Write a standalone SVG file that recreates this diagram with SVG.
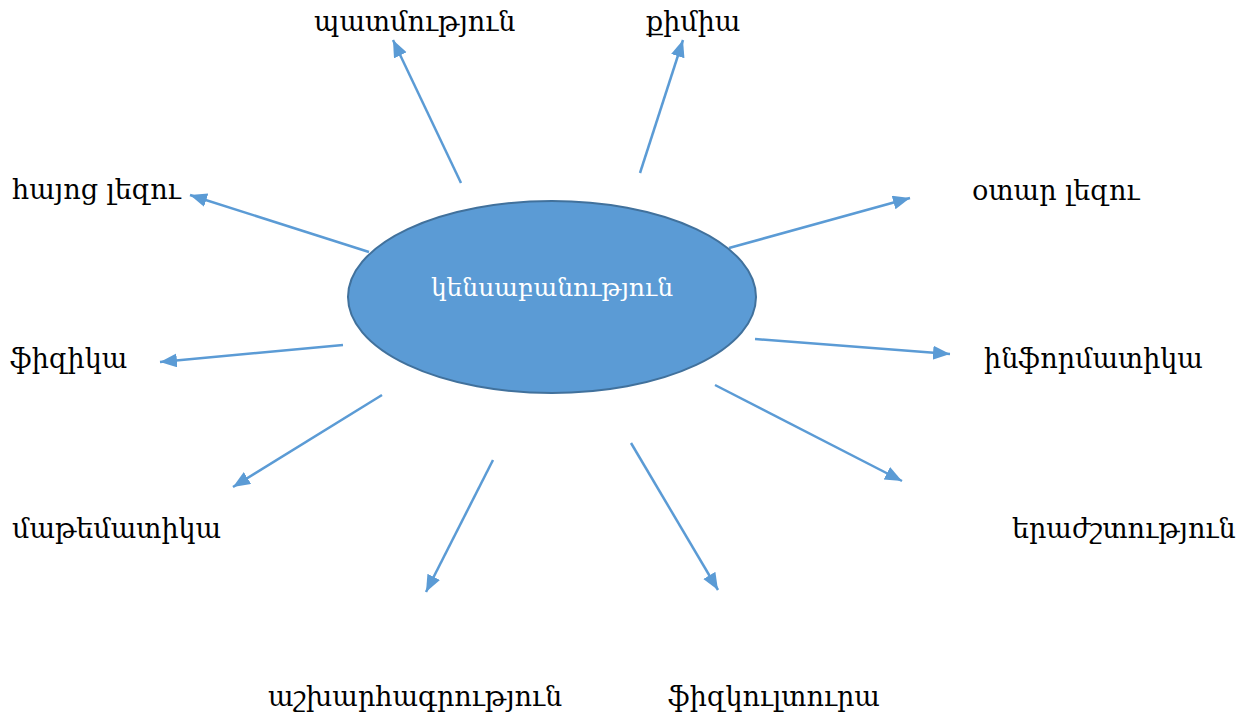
<svg xmlns="http://www.w3.org/2000/svg" width="1248" height="721" viewBox="0 0 1248 721">
<style>
.t{font-family:"DejaVu Serif","Noto Serif","Noto Sans",serif;font-size:27px;fill:#000}
.c{fill:#fff;font-size:25px}
.ln{stroke:#5B9BD5;stroke-width:2.5;fill:none;marker-end:url(#ah)}
</style>
<defs>
<marker id="ah" markerUnits="userSpaceOnUse" markerWidth="18" markerHeight="16" refX="17" refY="7" orient="auto">
<path d="M0,0 L17,7 L0,14 Z" fill="#5B9BD5"/>
</marker>
</defs>
<rect width="1248" height="721" fill="#fff"/>
<g id="connectors">
<line class="ln" x1="461" y1="183" x2="393" y2="40"/>
<line class="ln" x1="640" y1="173" x2="683" y2="40"/>
<line class="ln" x1="369" y1="252" x2="190" y2="195"/>
<line class="ln" x1="729" y1="248" x2="910" y2="198"/>
<line class="ln" x1="343" y1="345" x2="160" y2="362"/>
<line class="ln" x1="755" y1="339" x2="950" y2="354"/>
<line class="ln" x1="382" y1="395" x2="233" y2="487"/>
<line class="ln" x1="715" y1="385" x2="902" y2="481"/>
<line class="ln" x1="493" y1="460" x2="426" y2="592"/>
<line class="ln" x1="631" y1="443" x2="718" y2="590"/>
</g>
<g id="center">
<ellipse cx="552" cy="297" rx="204" ry="96" fill="#5B9BD5" stroke="#41719C" stroke-width="2"/>
<text class="t c" x="552" y="296" text-anchor="middle">կենսաբանություն</text>
</g>
<g id="n1"><text class="t" x="314" y="31">պատմություն</text></g>
<g id="n2"><text class="t" x="646" y="31">քիմիա</text></g>
<g id="n3"><text class="t" x="12" y="199">հայոց լեզու</text></g>
<g id="n4"><text class="t" x="972" y="200">օտար լեզու</text></g>
<g id="n5"><text class="t" x="10" y="368">ֆիզիկա</text></g>
<g id="n6"><text class="t" x="984" y="368">ինֆորմատիկա</text></g>
<g id="n7"><text class="t" x="12" y="538">մաթեմատիկա</text></g>
<g id="n8"><text class="t" x="1012" y="538">երաժշտություն</text></g>
<g id="n9"><text class="t" x="268" y="706">աշխարհագրություն</text></g>
<g id="n10"><text class="t" x="668" y="706">ֆիզկուլտուրա</text></g>
</svg>
